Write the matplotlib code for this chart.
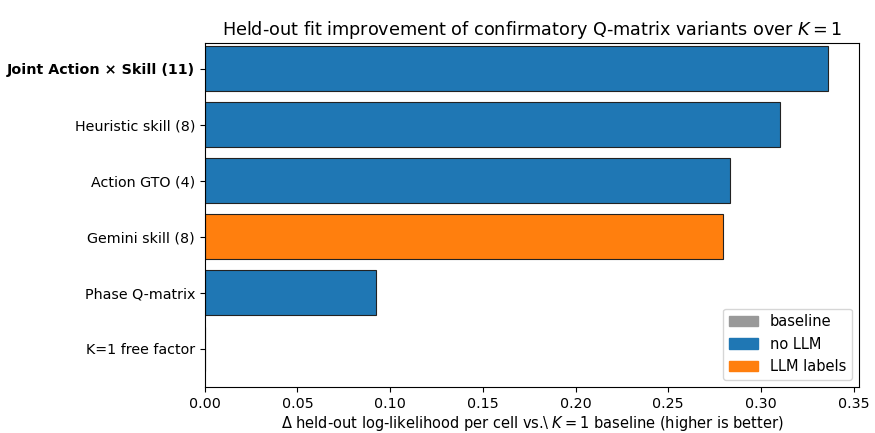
import matplotlib
matplotlib.use("Agg")
import matplotlib.pyplot as plt
from matplotlib.patches import Patch

# variants, top to bottom
labels = ["Joint Action \u00d7 Skill (11)", "Heuristic skill (8)", "Action GTO (4)",
          "Gemini skill (8)", "Phase Q-matrix", "K=1 free factor"]
delta_ll = [0.336, 0.310, 0.2835, 0.2795, 0.0925, 0.0]
groups = ["no LLM", "no LLM", "no LLM", "LLM labels", "no LLM", "baseline"]

group_colors = {"baseline": "#999999", "no LLM": "#1f77b4", "LLM labels": "#ff7f0e"}

fig = plt.figure(figsize=(8.75, 4.33), dpi=100)
ax = fig.add_axes([0.234, 0.106, 0.748, 0.795])

ypos = list(range(len(labels)))
ax.barh(ypos, delta_ll, height=0.8, color=[group_colors[g] for g in groups],
        edgecolor="#222222", linewidth=0.8)
ax.set_yticks(ypos)
ax.set_yticklabels(labels, fontsize=10.3)
ax.get_yticklabels()[0].set_fontweight("bold")
ax.set_ylim(5.68, -0.46)
ax.set_xlim(0, 0.353)
ax.tick_params(axis="x", labelsize=10.3)

ax.set_xlabel("\u0394 held-out log-likelihood per cell vs.\\ $K=1$ baseline (higher is better)",
              fontsize=10.5, labelpad=2)
ax.set_title("Held-out fit improvement of confirmatory Q-matrix variants over $K=1$", fontsize=12.7)

handles = [Patch(color=group_colors[k], label=k) for k in ["baseline", "no LLM", "LLM labels"]]
ax.legend(handles=handles, loc="lower right", fontsize=10.5)

fig.savefig("out.png", dpi=100)
